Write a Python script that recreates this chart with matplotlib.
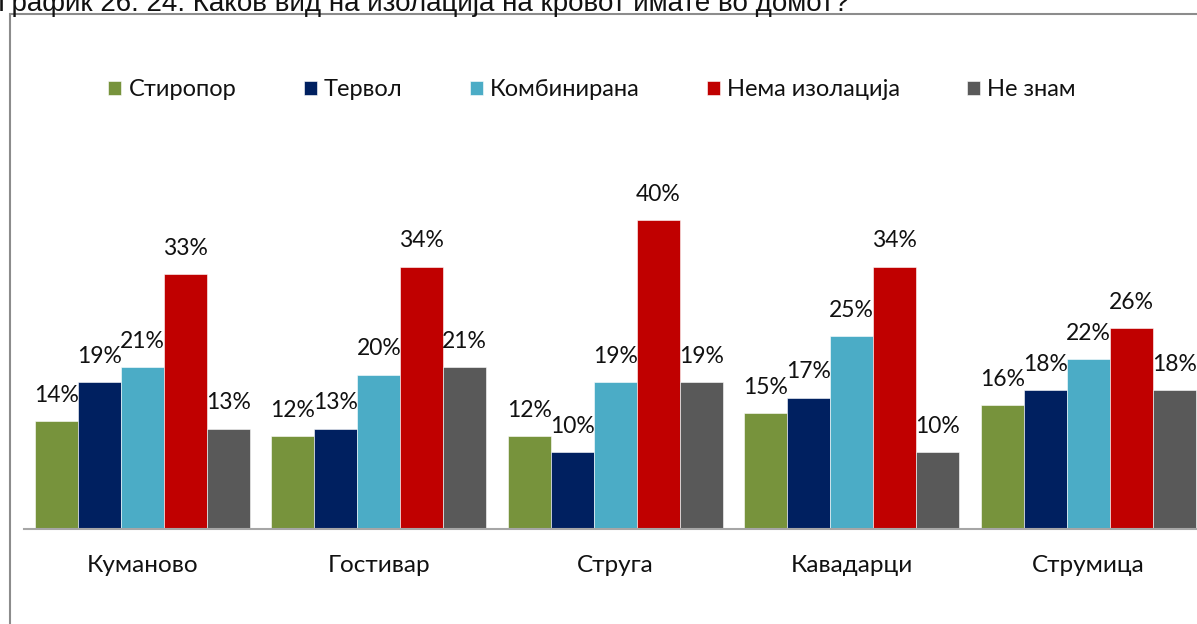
import matplotlib.pyplot as plt
import numpy as np
from matplotlib.patches import Rectangle

# ── Data ──────────────────────────────────────────────────────────────────────
TITLE = "График 26. 24. Каков вид на изолација на кровот имате во домот?"
CITIES = ["Куманово", "Гостивар", "Струга", "Кавадарци", "Струмица"]
SERIES = ["Стиропор", "Тервол", "Комбинирана", "Нема изолација", "Не знам"]
styrofoam = [14, 12, 12, 15, 16]
rockwool = [19, 13, 10, 17, 18]
combined = [21, 20, 19, 25, 22]
no_insulation = [33, 34, 40, 34, 26]
dont_know = [13, 21, 19, 10, 18]
VALUES = [styrofoam, rockwool, combined, no_insulation, dont_know]
COLORS = ["#77933C", "#002060", "#4BACC6", "#C00000", "#595959"]

FONT = ["Lato", "Noto Sans", "DejaVu Sans"]
plt.rcParams["font.family"] = FONT

W, H = 1197, 624
fig = plt.figure(figsize=(W / 100, H / 100), dpi=100)

# outer chart frame (runs off the right and bottom edge)
fig.patches.append(Rectangle((10 / W, -0.1), 1.2, 1 - 14 / H + 0.1,
                             transform=fig.transFigure, fill=False,
                             edgecolor="#8C8C8C", lw=1.5, clip_on=False))

# title sits mostly above the visible area, as in the source screenshot
fig.text(-2 / W, 1 - 11 / H, TITLE, fontsize=20, va="baseline", ha="left",
         family=["Liberation Sans", "DejaVu Sans"], color="#111111")

ax_left, ax_bottom = 24 / W, 1 - 529 / H
ax = fig.add_axes([ax_left, ax_bottom, 5 * 236.5 / W, (529 - 140) / H])

x = np.arange(len(CITIES))
bw = 43 / 236.5
handles = []
for i, (vals, color, name) in enumerate(zip(VALUES, COLORS, SERIES)):
    bars = ax.bar(x + (i - 2) * bw, vals, width=bw, color=color, label=name,
                  edgecolor="#ffffff", linewidth=0.4)
    ax.bar_label(bars, labels=[f"{v}%" for v in vals], padding=11,
                 fontsize=16.5, color="#111111")
    handles.append(bars)

ax.set_xlim(-0.5, len(CITIES) - 0.5)
ax.set_ylim(0, (529 - 140) / 7.72)
ax.set_yticks([])
ax.set_xticks(x)
ax.set_xticklabels(CITIES, fontsize=17.5, color="#111111")
ax.tick_params(axis="x", length=0, pad=19)
for s in ["top", "right", "left"]:
    ax.spines[s].set_visible(False)
ax.spines["bottom"].set_color("#A6A6A6")
ax.spines["bottom"].set_linewidth(1.5)

leg = fig.legend(handles, SERIES, loc="center left", bbox_to_anchor=(99 / W, 1 - 90 / H),
                 ncol=5, frameon=False, fontsize=17, handlelength=0.55, handleheight=0.55,
                 handletextpad=0.3, columnspacing=2.85, borderaxespad=0)
for t in leg.get_texts():
    t.set_color("#111111")

fig.savefig("out.png", dpi=100)
